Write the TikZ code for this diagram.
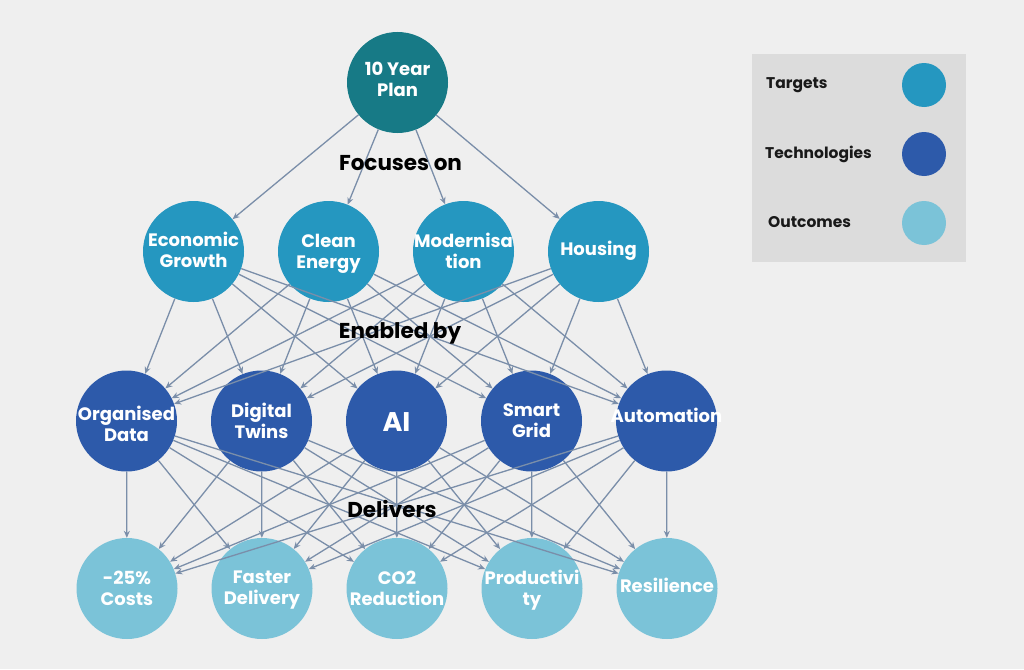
\documentclass[tikz,border=0pt]{standalone}
\usepackage{fontspec}
\setmainfont{Poppins}
\usetikzlibrary{arrows.meta}
\definecolor{bg}{HTML}{EFEFEF}
\definecolor{legbg}{HTML}{DCDCDC}
\definecolor{plancol}{HTML}{177A86}
\definecolor{tgtcol}{HTML}{2597C0}
\definecolor{techcol}{HTML}{2D5AAA}
\definecolor{outcol}{HTML}{7BC3D8}
\definecolor{edgecol}{HTML}{7A8EA9}
\newcommand{\myln}[1]{#1\strut}
\begin{document}
\begin{tikzpicture}[x=1pt,y=-1pt,
  bubble/.style={circle,minimum size=101pt,inner sep=0pt},
  plannode/.style={bubble,fill=plancol},
  tgtnode/.style={bubble,fill=tgtcol},
  technode/.style={bubble,fill=techcol},
  outnode/.style={bubble,fill=outcol},
  txt/.style={text=white,font=\fontsize{18}{21}\selectfont\bfseries,align=center,inner sep=0pt},
  lbl/.style={text=black,font=\fontsize{21.5}{24}\selectfont\bfseries,inner sep=0pt},
  legtxt/.style={text=black!90,font=\fontsize{15.5}{18}\selectfont\bfseries,anchor=west,inner sep=0pt},
  legdot/.style={circle,minimum size=44pt,inner sep=0pt},
  conn/.style={draw=edgecol,line width=1.3pt,-{Stealth[length=7pt,width=6pt]}}
]
\useasboundingbox[fill=bg] (0,0) rectangle (1024,669);

% legend
\node[fill=legbg,minimum width=214pt,minimum height=208pt,inner sep=0pt,anchor=north west] (legend) at (752,54) {};
\node[legtxt] (lt1) at (766,85) {Targets};
\node[legtxt] (lt2) at (765,154) {Technologies};
\node[legtxt] (lt3) at (768,222) {Outcomes};
\node[legdot,fill=tgtcol] (ld1) at (924,85) {};
\node[legdot,fill=techcol] (ld2) at (924,154) {};
\node[legdot,fill=outcol] (ld3) at (924,223) {};

% nodes
\node[plannode] (plan) at (397.5,82.5) {};
\node[tgtnode] (t1) at (193.5,251.5) {};
\node[tgtnode] (t2) at (328.5,251.5) {};
\node[tgtnode] (t3) at (463.5,251.5) {};
\node[tgtnode] (t4) at (598.5,251.5) {};
\node[technode] (k1) at (126.5,421) {};
\node[technode] (k2) at (261.5,421) {};
\node[technode] (k3) at (396.5,421) {};
\node[technode] (k4) at (531.5,421) {};
\node[technode] (k5) at (666.5,421) {};
\node[outnode] (o1) at (127,588.5) {};
\node[outnode] (o2) at (262,588.5) {};
\node[outnode] (o3) at (397,588.5) {};
\node[outnode] (o4) at (532,588.5) {};
\node[outnode] (o5) at (667,588.5) {};

% connectors
\foreach \t in {t1,t2,t3,t4} \draw[conn] (plan) -- (\t);
\foreach \t in {t1,t2,t3,t4} \foreach \k in {k1,k2,k3,k4,k5} \draw[conn] (\t) -- (\k);
\foreach \k in {k1,k2,k3,k4,k5} \foreach \o in {o1,o2,o3,o4,o5} \draw[conn] (\k) -- (\o);

% texts
\node[txt] (plantxt) at ([yshift=1pt]plan) {\myln{10 Year}\\\myln{Plan}};
\node[txt] (t1txt) at ([yshift=-1pt]t1) {\myln{Economic}\\\myln{Growth}};
\node[txt] (t2txt) at ([yshift=-2pt]t2) {\myln{Clean}\\\myln{Energy}};
\node[txt] (t3txt) at ([yshift=-2pt]t3) {\myln{Modernisa}\\\myln{tion}};
\node[txt] (t4txt) at (t4) {\myln{Housing}};
\node[txt] (k1txt) at ([yshift=-6pt]k1) {\myln{Organised}\\\myln{Data}};
\node[txt] (k2txt) at ([yshift=-3pt]k2) {\myln{Digital}\\\myln{Twins}};
\node[txt,font=\fontsize{27}{30}\selectfont\bfseries] (k3txt) at ([yshift=-1pt]k3) {AI};
\node[txt] (k4txt) at ([yshift=-2pt]k4) {\myln{Smart}\\\myln{Grid}};
\node[txt] (k5txt) at ([yshift=3pt]k5) {\myln{Automation}};
\node[txt] (o1txt) at ([yshift=-2pt]o1) {\myln{-25\%}\\\myln{Costs}};
\node[txt] (o2txt) at ([yshift=-1pt]o2) {\myln{Faster}\\\myln{Delivery}};
\node[txt] (o3txt) at ([yshift=-2pt]o3) {\myln{CO2}\\\myln{Reduction}};
\node[txt] (o4txt) at ([yshift=-2pt]o4) {\myln{Productivi}\\\myln{ty}};
\node[txt] (o5txt) at (o5) {\myln{Resilience}};

\node[lbl] (l1) at (400.5,163) {Focuses on};
\node[lbl] (l2) at (400,333) {Enabled by};
\node[lbl] (l3) at (392,509) {Delivers};
\end{tikzpicture}
\end{document}
